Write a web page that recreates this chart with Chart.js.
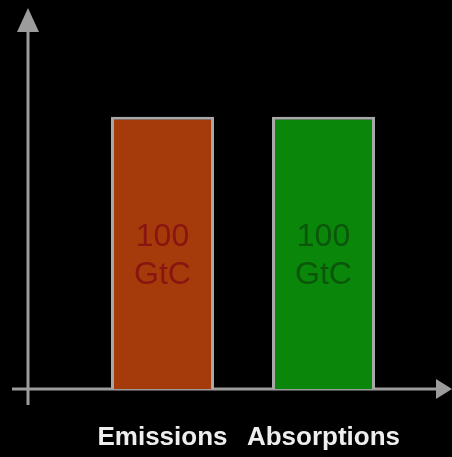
<!DOCTYPE html>
<html>
<head>
<meta charset="utf-8">
<script src="https://cdn.jsdelivr.net/npm/chart.js@4.4.1/dist/chart.umd.min.js"></script>
<style>
  html, body { margin: 0; padding: 0; background: #000; }
  #wrap { width: 452px; height: 457px; position: relative; }
</style>
</head>
<body>
<div id="wrap"><canvas id="carbonChart"></canvas></div>
<script>
const categories = ['Emissions', 'Absorptions'];
const values = [100, 100];
const unit = 'GtC';
const barColors = ['#a53b0b', '#0a870a'];
const valueColors = ['#8a1410', '#0b560b'];

const axisColor = '#9c9c9c';
const fontFamily = '"Liberation Sans", Arial, sans-serif';

// gray axes with arrow heads behind the bars, values and category names on top
const arrowAxes = {
    id: 'arrowAxes',
    beforeDatasetsDraw(chart) {
        const { ctx, scales } = chart;
        const y0 = scales.y.getPixelForValue(0);
        const top = scales.y.getPixelForValue(scales.y.max);
        const ax = 28;
        ctx.save();
        ctx.strokeStyle = axisColor;
        ctx.fillStyle = axisColor;
        ctx.lineWidth = 3;
        ctx.beginPath();
        ctx.moveTo(ax, y0 + 16);
        ctx.lineTo(ax, top + 20);
        ctx.moveTo(12, y0);
        ctx.lineTo(chart.width - 12, y0);
        ctx.stroke();
        ctx.beginPath();
        ctx.moveTo(ax, top);
        ctx.lineTo(ax - 11, top + 24);
        ctx.lineTo(ax + 11, top + 24);
        ctx.closePath();
        ctx.fill();
        ctx.beginPath();
        ctx.moveTo(chart.width, y0);
        ctx.lineTo(chart.width - 16, y0 - 10);
        ctx.lineTo(chart.width - 16, y0 + 10);
        ctx.closePath();
        ctx.fill();
        ctx.restore();
    },
    afterDatasetsDraw(chart) {
        const { ctx, scales } = chart;
        const meta = chart.getDatasetMeta(0);
        const y0 = scales.y.getPixelForValue(0);
        ctx.save();
        ctx.textAlign = 'center';
        ctx.textBaseline = 'middle';
        ctx.font = '32px ' + fontFamily;
        meta.data.forEach((bar, i) => {
            const mid = (bar.y + bar.base) / 2;
            ctx.fillStyle = valueColors[i];
            ctx.fillText(String(values[i]), bar.x, mid - 16);
            ctx.fillText(unit, bar.x, mid + 22);
        });
        ctx.font = 'bold 26px ' + fontFamily;
        ctx.fillStyle = '#eeeeee';
        categories.forEach((c, i) => {
            ctx.fillText(c, scales.x.getPixelForValue(i), y0 + 49);
        });
        ctx.restore();
    }
};

new Chart(document.getElementById('carbonChart'), {
    type: 'bar',
    data: {
        labels: categories,
        datasets: [{
            data: values,
            backgroundColor: barColors,
            borderColor: '#a8a8a8',
            borderWidth: 3,
            barPercentage: 0.64,
            categoryPercentage: 1,
        }],
    },
    options: {
        responsive: true,
        maintainAspectRatio: false,
        animation: false,
        layout: {
            padding: { top: 8, left: 82, right: 48, bottom: 68 },
        },
        scales: {
            x: { display: false },
            y: {
                display: false,
                min: 0,
                max: 140,
            },
        },
        plugins: {
            legend: { display: false },
            tooltip: { enabled: false },
        },
    },
    plugins: [arrowAxes],
});
</script>
</body>
</html>
